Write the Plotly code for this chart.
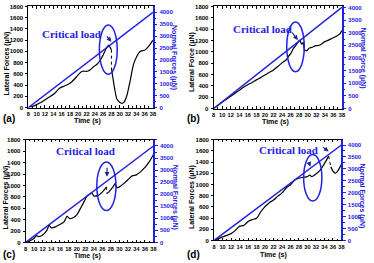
import plotly.graph_objects as go

# ---------------- data ----------------
time_range = [8, 38]
normal_time = [8, 38]
normal_force = [0, 4000]
x_ticks = list(range(8, 39, 2))
left_ticks = list(range(0, 1801, 200))
right_ticks = list(range(0, 4001, 500))

# (a)
time_a_pre = [8, 9.5, 11.1, 12.7, 14.3, 15.5, 16.7, 18.2, 19.4, 20.2, 21, 22.2, 23, 23.8, 24.6, 25.4, 26.2, 27, 27.4, 27.8, 28]
force_a_pre = [0, 35, 93, 169, 250, 344, 384, 443, 530, 600, 646, 646, 676, 734, 775, 850, 967, 1083, 1112, 1054, 1030]
time_a_post = [28, 28.6, 29.3, 30, 30.5, 31, 31.7, 32.5, 33.3, 34.1, 34.9, 36.1, 36.9, 38]
force_a_post = [705, 413, 151, 93, 76, 93, 210, 472, 763, 909, 996, 1025, 1083, 1200]

# (b)
time_b_pre = [8, 9, 10, 11, 12, 13, 14, 15, 16, 17, 18, 19, 20, 21, 22, 23, 24, 25, 25.5, 26, 26.7, 27.3, 27.8, 28.1, 28.6, 29.0]
force_b_pre = [0, 55, 110, 165, 215, 270, 320, 375, 420, 460, 505, 545, 590, 635, 680, 740, 805, 860, 920, 965, 1064, 1120, 1179, 1208, 1133, 1167]
time_b_post = [29.2, 29.8, 30.3, 31, 31.7, 32.3, 32.9, 34, 35, 35.6, 36.5, 37.1, 37.6, 38]
force_b_post = [1035, 1018, 1064, 1080, 1104, 1110, 1121, 1179, 1210, 1236, 1265, 1294, 1320, 1380]

# (c)
time_c_pre = [8, 9, 10, 10.5, 11, 12, 13, 13.5, 14, 15, 16, 17, 17.7, 18.3, 19, 20, 21, 22, 22.5, 23, 23.5, 24, 25, 26, 26.5, 27]
force_c_pre = [0, 28, 74, 120, 102, 131, 216, 302, 256, 273, 313, 359, 461, 416, 427, 484, 615, 757, 826, 843, 871, 814, 826, 883, 928, 974]
time_c_post = [27, 27.5, 28, 28.5, 29, 29.5, 30, 31, 32, 33, 34, 35, 36, 37, 38]
force_c_post = [860, 883, 928, 975, 1031, 957, 974, 1031, 1099, 1167, 1185, 1241, 1315, 1412, 1543]

# (d)
time_d_pre = [8, 10, 12, 13, 14, 15, 16, 17, 18, 19, 20, 21, 22, 23, 24, 25, 26, 27, 28, 29, 30, 30.5, 31, 32, 33, 34, 35]
force_d_pre = [0, 64, 122, 180, 256, 268, 338, 373, 396, 513, 606, 676, 722, 792, 850, 938, 996, 1083, 1112, 1130, 1141, 1171, 1141, 1188, 1258, 1374, 1508]
time_d_post = [35.5, 36, 36.6, 37.2, 38]
force_d_post = [1316, 1240, 1205, 1250, 1363]

panel_labels = ["(a)", "(b)", "(c)", "(d)"]
left_titles = ["Lateral Forces (μN)", "Lateral Force (μN)", "Lateral Forces (μN)", "Lateral Forces (μN)"]
right_titles = ["Normal Forces (μN)", "Normal Force (μN)", "Normal Forces (μN)", "Normal Forces (μN)"]
critical_text = "Critical load"

# ---------------- layout geometry (pixels) ----------------
W, H = 374, 263
BLUE = "#1f22e0"
DARKBLUE = "#1a2a8a"

def px(x):
    return x / W

def py(y):
    return 1 - y / H

panels = [
    dict(pre=(time_a_pre, force_a_pre), post=(time_a_post, force_a_post), dotted=True,
         box=(26.7, 153, 3.5, 107), rmax=4247,
         ell=(25.1, 29.4, 594, 1468), txt=(18.4, 1306),
         arrows=[((26.6, 1294), (28.0, 1171))],
         ltitle=(5, 62), rtitle=(175, 56), xtitle=(87, 121), plabel=(7, 118)),
    dict(pre=(time_b_pre, force_b_pre), post=(time_b_post, force_b_post), dotted=False,
         box=(214.5, 344.5, 3.5, 108), rmax=4040,
         ell=(25.1, 29.2, 650, 1524), txt=(19.4, 1409),
         arrows=[((26.1, 1363), (27.7, 1208))],
         ltitle=(192, 60), rtitle=(366, 56), xtitle=(277, 122), plabel=(194, 118)),
    dict(pre=(time_c_pre, force_c_pre), post=(time_c_post, force_c_post), dotted=True,
         box=(24, 153.5, 140, 245), rmax=4256,
         ell=(24.7, 29.2, 558, 1412), txt=(22.0, 1595),
         arrows=[((27.1, 1335), (27.1, 1150))],
         ltitle=(5, 199), rtitle=(175, 199), xtitle=(87, 258.5), plabel=(7, 257)),
    dict(pre=(time_d_pre, force_d_pre), post=(time_d_post, force_d_post), dotted=True,
         box=(215, 344, 140, 243), rmax=4218,
         ell=(29.1, 33.4, 705, 1538), txt=(25.5, 1625),
         arrows=[((30.2, 1420), (30.7, 1320)), ((33.3, 1690), (35.0, 1590))],
         ltitle=(193, 198), rtitle=(365, 197), xtitle=(275, 257.5), plabel=(194, 257)),
]

fig = go.Figure()
layout = dict(width=W, height=H, margin=dict(l=0, r=0, t=0, b=0),
              paper_bgcolor="white", plot_bgcolor="white", showlegend=False)
annotations = []
shapes = []
tickfont = dict(family="Liberation Sans", size=6, color="black", weight="bold")
xtickfont = dict(family="Liberation Sans", size=5.6, color="black", weight="bold")
titlefont = dict(family="Liberation Sans", size=7, color="black", weight="bold")

for i, p in enumerate(panels):
    n = i + 1
    xa = "x" if n == 1 else f"x{n}"
    yl = f"y{2*n-1}" if n > 1 else "y"
    yr = f"y{2*n}"
    xk = "xaxis" if n == 1 else f"xaxis{n}"
    ylk = "yaxis" if n == 1 else f"yaxis{2*n-1}"
    yrk = f"yaxis{2*n}"
    x0, x1, y0, y1 = p["box"]
    layout[xk] = dict(domain=[px(x0), px(x1)], range=time_range, anchor=yl,
                      tickvals=x_ticks, tickangle=0, ticks="inside", ticklen=2.5, tickcolor="black",
                      showline=True, linecolor="black", linewidth=1, mirror="ticks",
                      showgrid=False, zeroline=False, tickfont=xtickfont, ticklabelstandoff=1,
                      minor=dict(dtick=1, ticks="inside", ticklen=1.5, tickcolor="black"))
    layout[ylk] = dict(domain=[py(y1), py(y0)], range=[0, 1800], anchor=xa,
                       tickvals=left_ticks, ticks="outside", ticklen=2, tickcolor="black",
                       showline=True, linecolor="black", linewidth=1,
                       showgrid=False, zeroline=False, tickfont=tickfont, ticklabelstandoff=1)
    layout[yrk] = dict(range=[0, p["rmax"]], overlaying=yl, side="right", anchor=xa,
                       tickvals=right_ticks, ticks="outside", ticklen=2.5, tickcolor=BLUE,
                       showline=True, linecolor=BLUE, linewidth=1.5,
                       showgrid=False, zeroline=False,
                       tickfont=dict(family="Liberation Sans", size=6, color=BLUE, weight="bold"),
                       ticklabelstandoff=1,
                       minor=dict(dtick=250, ticks="outside", ticklen=1.5, tickcolor=BLUE))

    tpre, fpre = p["pre"]
    tpost, fpost = p["post"]
    fig.add_trace(go.Scatter(x=tpre, y=fpre, mode="lines", xaxis=xa, yaxis=yl,
                             line=dict(color="black", width=1.2, shape="spline", smoothing=0.5)))
    fig.add_trace(go.Scatter(x=[tpre[-1], tpost[0]], y=[fpre[-1], fpost[0]], mode="lines",
                             xaxis=xa, yaxis=yl,
                             line=dict(color="black", width=1 if p["dotted"] else 1.2,
                                       dash="dot" if p["dotted"] else "solid")))
    fig.add_trace(go.Scatter(x=tpost, y=fpost, mode="lines", xaxis=xa, yaxis=yl,
                             line=dict(color="black", width=1.2, shape="spline", smoothing=0.5)))
    fig.add_trace(go.Scatter(x=normal_time, y=normal_force, mode="lines", xaxis=xa, yaxis=yr,
                             line=dict(color=BLUE, width=1.5)))

    ex0, ex1, ey0, ey1 = p["ell"]
    shapes.append(dict(type="circle", xref=xa, yref=yl, x0=ex0, x1=ex1, y0=ey0, y1=ey1,
                       line=dict(color=BLUE, width=1.5)))
    tx, ty = p["txt"]
    annotations.append(dict(x=tx, y=ty, xref=xa, yref=yl, text=critical_text, showarrow=False,
                            font=dict(family="Liberation Serif", size=11, color=BLUE, weight="bold")))
    for (sx, sy), (ex, ey) in p["arrows"]:
        annotations.append(dict(x=ex, y=ey, ax=sx, ay=sy, xref=xa, yref=yl, axref=xa, ayref=yl,
                                text="", showarrow=True, arrowhead=2, arrowsize=0.8,
                                arrowwidth=1.2, arrowcolor=DARKBLUE))

    lx, ly = p["ltitle"]
    annotations.append(dict(x=px(lx), y=py(ly), xref="paper", yref="paper", text=left_titles[i],
                            textangle=-90, showarrow=False, font=titlefont,
                            xanchor="center", yanchor="middle"))
    rx, ry = p["rtitle"]
    annotations.append(dict(x=px(rx), y=py(ry), xref="paper", yref="paper", text=right_titles[i],
                            textangle=90, showarrow=False,
                            font=dict(family="Liberation Sans", size=7, color=BLUE, weight="bold"),
                            xanchor="center", yanchor="middle"))
    tx2, ty2 = p["xtitle"]
    annotations.append(dict(x=px(tx2), y=py(ty2), xref="paper", yref="paper", text="Time (s)",
                            showarrow=False, font=titlefont, xanchor="center", yanchor="middle"))
    plx, ply = p["plabel"]
    annotations.append(dict(x=px(plx), y=py(ply), xref="paper", yref="paper", text=panel_labels[i],
                            showarrow=False,
                            font=dict(family="Liberation Sans", size=10, color="black", weight="bold"),
                            xanchor="center", yanchor="middle"))

layout["annotations"] = annotations
layout["shapes"] = shapes
fig.update_layout(**layout)
fig.write_html("out.html", config={"displayModeBar": False},
               post_script="document.body.style.margin='0px';")
